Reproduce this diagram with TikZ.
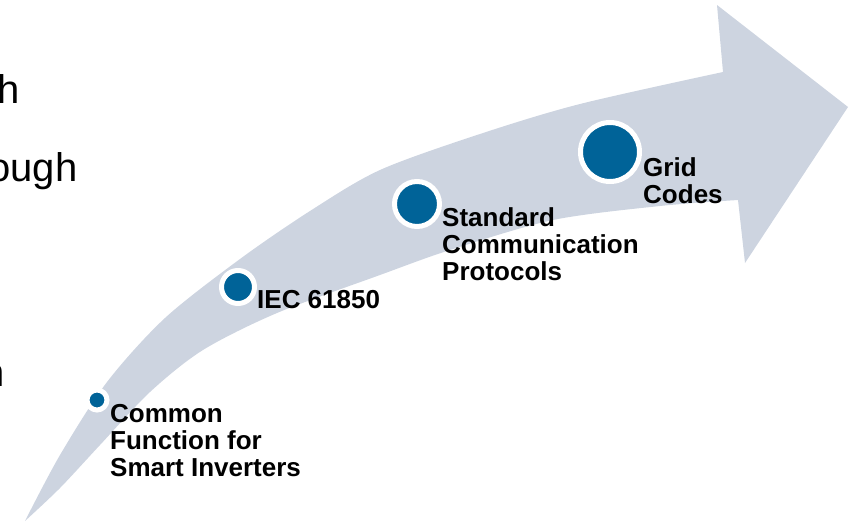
\documentclass[tikz,border=0pt]{standalone}
\usepackage{fontspec}
\setmainfont{Liberation Sans}
\usetikzlibrary{positioning}
\definecolor{arrowgray}{RGB}{205, 212, 224}
\definecolor{dotblue}{RGB}{0, 99, 152}

\begin{document}
\begin{tikzpicture}[x=1pt, y=-1pt,
  mstone/.style={circle, fill=dotblue, draw=white, line width=5pt, inner sep=0pt},
  mlabel/.style={anchor=north west, inner sep=0pt, align=left, font=\fontsize{26}{27}\selectfont\bfseries},
  bigtxt/.style={anchor=base east, inner sep=0pt, font=\fontsize{40}{44}\selectfont}
]
  \useasboundingbox (0,0) rectangle (849,522);

  % Cut-off body text on the left
  \node[bigtxt] (t1) at (19.5, 103) {h};
  \node[bigtxt] (t2) at (77.5, 181) {ough};
  \node[bigtxt] (t3) at (5, 386) {n};

  % Curved arrow
  \fill[arrowgray] plot[smooth] coordinates {(25,521) (60,455) (107,382) (165,318) (240,259) (310,211) (380,170) (480,134) (580,104) (723,72)}
    -- (717,5) -- (848,107) -- (745,263)
    -- plot[smooth] coordinates {(738,200) (660,206) (553,220) (450,250) (380,275) (277,313) (203,350) (150,392) (100,445) (60,488) (25,521)} -- cycle;

  % Milestones
  \node[mstone, minimum size=20pt] (csi) at (97, 400) {};
  \node[mstone, minimum size=33pt] (iec) at (238, 287) {};
  \node[mstone, minimum size=45pt] (scp) at (417, 204) {};
  \node[mstone, minimum size=59pt] (gc) at (610, 152) {};

  \node[mlabel] (csil) at (110, 404) {Common\\Function for\\Smart Inverters};
  \node[mlabel] (iecl) at (257, 290) {IEC 61850};
  \node[mlabel] (scpl) at (442, 207) {Standard\\Communication\\Protocols};
  \node[mlabel] (gcl) at (643, 157) {Grid\\Codes};
\end{tikzpicture}
\end{document}
